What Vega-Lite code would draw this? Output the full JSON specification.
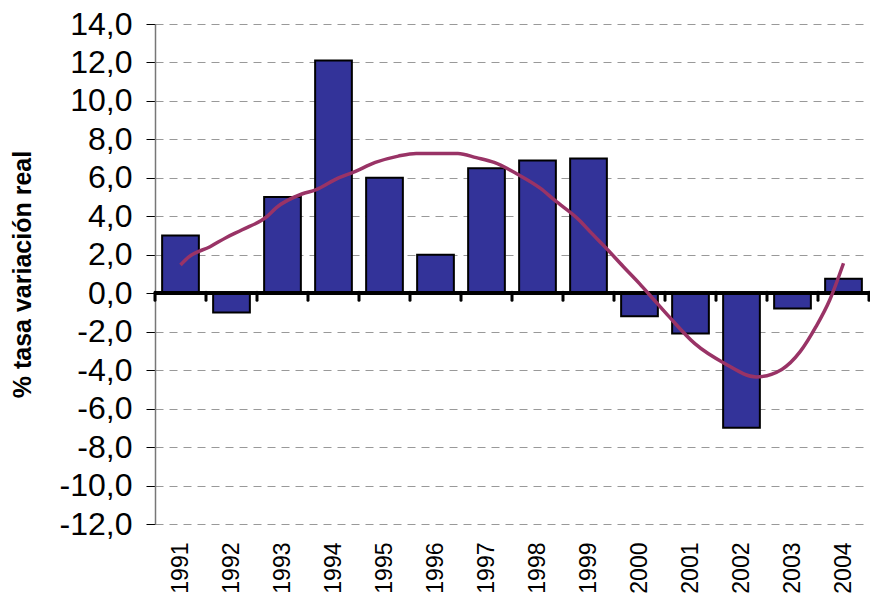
{
  "$schema": "https://vega.github.io/schema/vega-lite/v6.json",
  "width": 714,
  "height": 500,
  "autosize": {"type": "none"},
  "padding": {"left": 155, "top": 24, "right": 1, "bottom": 76},
  "background": "white",
  "config": {
    "view": {"stroke": null},
    "locale": {"number": {"decimal": ",", "thousands": ".", "grouping": [3], "currency": ["", " €"], "minus": "-"}},
    "font": "Liberation Sans",
    "axisY": {
      "titleFontSize": 25, "titleFontWeight": "bold", "titleColor": "#000000",
      "titlePadding": 24,
      "values": [-12, -10, -8, -6, -4, -2, 0, 2, 4, 6, 8, 10, 12, 14],
      "format": ".1f", "labelOverlap": false, "labelFlush": false,
      "labelFontSize": 32, "labelColor": "#000000", "labelPadding": 14,
      "tickSize": 9, "tickColor": "#000000", "tickWidth": 1,
      "domainColor": "#777777", "domainWidth": 1.5,
      "grid": true, "gridColor": "#999999", "gridDash": [8, 6], "gridWidth": 1.2
    }
  },
  "datasets": {
    "bars": [
      {"year": "1991", "value": 3.0},
      {"year": "1992", "value": -1.0},
      {"year": "1993", "value": 5.0},
      {"year": "1994", "value": 12.1},
      {"year": "1995", "value": 6.0},
      {"year": "1996", "value": 2.0},
      {"year": "1997", "value": 6.5},
      {"year": "1998", "value": 6.9},
      {"year": "1999", "value": 7.0},
      {"year": "2000", "value": -1.2},
      {"year": "2001", "value": -2.1},
      {"year": "2002", "value": -7.0},
      {"year": "2003", "value": -0.8},
      {"year": "2004", "value": 0.75}
    ],
    "trend": [
      {"t": 1991.0, "v": 1.47},
      {"t": 1991.17, "v": 1.9},
      {"t": 1991.58, "v": 2.42},
      {"t": 1991.9, "v": 2.9},
      {"t": 1992.21, "v": 3.3},
      {"t": 1992.7, "v": 4.0},
      {"t": 1992.88, "v": 4.45},
      {"t": 1993.38, "v": 5.16},
      {"t": 1993.65, "v": 5.37},
      {"t": 1994.1, "v": 6.0},
      {"t": 1994.37, "v": 6.27},
      {"t": 1994.82, "v": 6.8},
      {"t": 1995.27, "v": 7.13},
      {"t": 1995.62, "v": 7.27},
      {"t": 1996.44, "v": 7.27},
      {"t": 1996.8, "v": 7.05},
      {"t": 1997.15, "v": 6.8},
      {"t": 1997.6, "v": 6.2},
      {"t": 1998.06, "v": 5.45},
      {"t": 1998.33, "v": 4.85},
      {"t": 1998.82, "v": 3.8},
      {"t": 1999.05, "v": 3.15},
      {"t": 1999.32, "v": 2.42},
      {"t": 1999.68, "v": 1.39},
      {"t": 2000.0, "v": 0.5},
      {"t": 2000.27, "v": -0.3},
      {"t": 2000.58, "v": -1.22},
      {"t": 2001.08, "v": -2.61},
      {"t": 2001.67, "v": -3.65},
      {"t": 2002.29, "v": -4.35},
      {"t": 2002.79, "v": -3.96},
      {"t": 2003.15, "v": -3.04},
      {"t": 2003.46, "v": -1.74},
      {"t": 2003.73, "v": -0.35},
      {"t": 2004.0, "v": 1.56}
    ]
  },
  "layer": [
    {
      "data": {"name": "bars"},
      "layer": [
        {
          "mark": {"type": "bar", "fill": "#333399", "stroke": "#000000", "strokeWidth": 2},
          "encoding": {
            "x": {
              "field": "year", "type": "ordinal",
              "scale": {"paddingInner": 0.28, "paddingOuter": 0.14},
              "axis": {
                "title": null, "domain": false, "ticks": false, "labelAngle": -90,
                "labelFontSize": 23, "labelColor": "#000000", "labelPadding": 18,
                "labelAlign": "right", "labelBaseline": "middle", "grid": false
              }
            },
            "y": {
              "field": "value", "type": "quantitative",
              "scale": {"domain": [-12, 14], "nice": false, "zero": false},
              "axis": {"title": "% tasa variación real"}
            }
          }
        },
        {
          "mark": {"type": "rule", "color": "#000000", "strokeWidth": 3},
          "encoding": {"y": {"datum": 0}}
        },
        {
          "mark": {"type": "rule", "color": "#000000", "strokeWidth": 3, "strokeCap": "round"},
          "encoding": {
            "x": {"field": "year", "type": "ordinal", "bandPosition": -0.1944},
            "y": {"datum": 0.05},
            "y2": {"datum": -0.36}
          }
        },
        {
          "transform": [{"filter": "datum.year == '2004'"}],
          "mark": {"type": "rule", "color": "#000000", "strokeWidth": 3, "strokeCap": "round"},
          "encoding": {
            "x": {"field": "year", "type": "ordinal", "bandPosition": 1.1944},
            "y": {"datum": 0.05},
            "y2": {"datum": -0.36}
          }
        }
      ]
    },
    {
      "data": {"name": "trend"},
      "mark": {"type": "line", "color": "#993366", "strokeWidth": 3.5, "interpolate": "monotone"},
      "encoding": {
        "x": {"field": "t", "type": "quantitative", "scale": {"domain": [1990.5, 2004.5], "nice": false, "zero": false}, "axis": null},
        "y": {"field": "v", "type": "quantitative", "axis": {"title": "% tasa variación real"}}
      }
    }
  ],
  "resolve": {"scale": {"x": "independent"}, "axis": {"x": "independent"}}
}
